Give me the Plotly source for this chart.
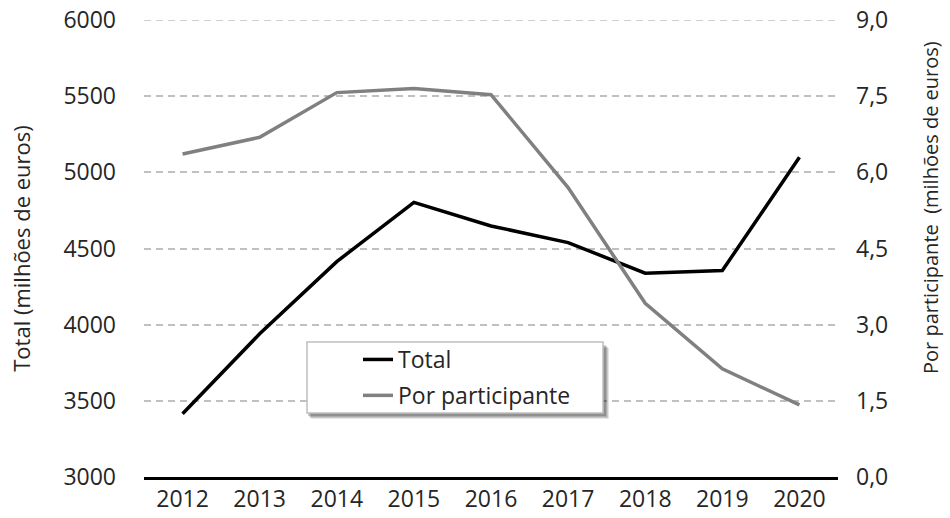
import plotly.graph_objects as go

years = ["2012", "2013", "2014", "2015", "2016", "2017", "2018", "2019", "2020"]
total = [3415, 3940, 4414, 4803, 4648, 4539, 4338, 4355, 5099]
por_participante = [6.36, 6.69, 7.57, 7.65, 7.53, 5.70, 3.42, 2.13, 1.42]

left_ticks = [3000, 3500, 4000, 4500, 5000, 5500, 6000]
right_ticks = [0.0, 1.5, 3.0, 4.5, 6.0, 7.5, 9.0]

FONT = "Open Sans"
TXT = "#262626"
FS_TICK = 23
FS_TITLE = 22
GRID = "#c0c0c0"

L, R, T, B = 144, 838, 20, 477          # plot area in page pixels
W, H = R - L, B - T

fig = go.Figure()
fig.add_trace(go.Scatter(x=years, y=total, name="Total", mode="lines",
                         line=dict(color="#000000", width=3.5), legendgroup="a"))
fig.add_trace(go.Scatter(x=years, y=por_participante, name="Por participante", mode="lines",
                         line=dict(color="#808080", width=3.5), yaxis="y2", legendgroup="b"))

def px(x): return (x - L) / W
def py(y): return (B - y) / H

# top gridline (plotly omits the grid line on the plot edge)
fig.add_shape(type="line", xref="paper", yref="y", x0=0, x1=1, y0=left_ticks[-1], y1=left_ticks[-1],
              line=dict(color=GRID, width=1.5, dash="7px,5px"), layer="below")

# legend box with soft shadow
for off, op in [(6, 0.10), (5, 0.12), (4, 0.14), (3, 0.16)]:
    fig.add_shape(type="rect", xref="paper", yref="paper",
                  x0=px(307 + off - 2), x1=px(603 + off), y0=py(413 + off), y1=py(342 + off),
                  line=dict(width=0), fillcolor="rgba(0,0,0,%s)" % op, layer="above")
fig.add_shape(type="rect", xref="paper", yref="paper",
              x0=px(307), x1=px(603), y0=py(413), y1=py(342),
              line=dict(color="#bfbfbf", width=1.5), fillcolor="#ffffff", layer="above")

# right axis title (placed like the reference, above centre)
fig.add_annotation(text="Por participante  (milhões de euros)", textangle=-90,
                   xref="paper", yref="paper", x=px(930), y=py(208),
                   xanchor="center", yanchor="middle", showarrow=False,
                   font=dict(family=FONT, size=20, color=TXT))

fig.update_layout(
    width=950, height=518,
    margin=dict(l=L, r=950 - R, t=T, b=518 - B, autoexpand=False),
    paper_bgcolor="#ffffff", plot_bgcolor="#ffffff",
    font=dict(family=FONT, size=FS_TICK, color=TXT),
    separators=",.",
    showlegend=True,
    legend=dict(x=px(358), y=py(338), xanchor="left", yanchor="top",
                bgcolor="rgba(0,0,0,0)", borderwidth=0,
                font=dict(family=FONT, size=FS_TICK, color=TXT),
                traceorder="grouped", tracegroupgap=3),
    xaxis=dict(type="category", range=[-0.5, 8.5], showgrid=False, automargin=False,
               showline=True, linecolor="#000000", linewidth=2.5,
               ticks="", ticklabelstandoff=0, tickfont=dict(size=FS_TICK, color=TXT),
               zeroline=False),
    yaxis=dict(range=[3000, 6000], tickvals=left_ticks, tickformat="d", automargin=False,
               showgrid=True, gridcolor=GRID, gridwidth=1.5, griddash="7px,5px",
               showline=False, zeroline=False, ticks="", ticklabelstandoff=27,
               ticklabeloverflow="allow",
               tickfont=dict(size=FS_TICK, color=TXT),
               title=dict(text="Total (milhões de euros)", standoff=26,
                          font=dict(size=FS_TITLE, color=TXT))),
    yaxis2=dict(range=[0, 9], tickvals=right_ticks, tickformat=".1f", automargin=False,
                overlaying="y", side="right", showgrid=False, zeroline=False,
                showline=False, ticks="", ticklabelstandoff=17,
                ticklabeloverflow="allow",
                tickfont=dict(size=FS_TICK, color=TXT)),
)

# remove the browser's default 8px body margin so the figure starts at the window corner
fig.write_html("out.html", config={"displayModeBar": False},
               post_script="document.body.style.margin='0';")
